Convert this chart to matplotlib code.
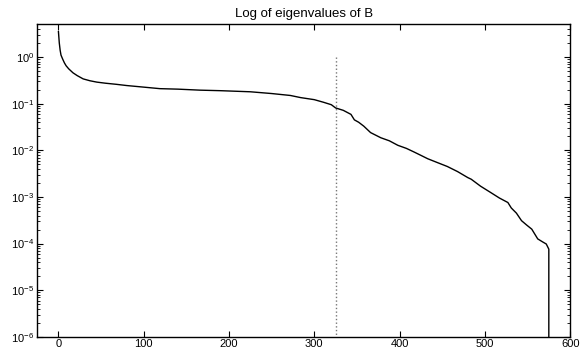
import matplotlib
matplotlib.use("Agg")
import matplotlib.pyplot as plt
from matplotlib.ticker import LogLocator, NullFormatter

plt.rcParams["font.family"] = ["Liberation Sans", "DejaVu Sans"]
plt.rcParams["mathtext.default"] = "regular"

# eigenvalue index / value
idx = [0, 1, 2, 3, 5, 7, 9, 12, 17, 22, 29, 37, 45, 55, 68, 80, 96, 119,
       140, 166, 190, 225, 250, 272, 284, 300, 311, 320, 325, 334, 343, 347,
       352, 358, 366, 378, 388, 398, 408, 417, 425, 433, 445, 456, 468, 480,
       484, 495, 507, 517, 527, 531, 537, 543, 549, 555, 562, 568, 572, 575,
       575]
eig = [3.5, 2.0, 1.4, 1.1, 0.9, 0.75, 0.65, 0.56, 0.46, 0.40, 0.34, 0.31,
       0.29, 0.275, 0.26, 0.245, 0.23, 0.21, 0.205, 0.195, 0.19, 0.18, 0.165,
       0.15, 0.135, 0.122, 0.107, 0.095, 0.081, 0.072, 0.059, 0.045, 0.040,
       0.033, 0.024, 0.0186, 0.016, 0.0128, 0.011, 0.0092, 0.0078, 0.0066,
       0.0054, 0.0045, 0.0035, 0.0026, 0.0024, 0.0017, 0.00124, 0.00095,
       0.00076, 0.00058, 0.00045, 0.00031, 0.00025, 0.000204, 0.000126,
       0.000108, 9.8e-5, 7.6e-5, 1e-9]

# cut-off marker (dotted vertical)
cut_x = [325, 325]
cut_y = [1.0, 1e-7]

xticks = [0, 100, 200, 300, 400, 500, 600]
yticks = [1e-6, 1e-5, 1e-4, 1e-3, 1e-2, 1e-1, 1e0]

fig = plt.figure(figsize=(5.8, 3.52), dpi=100)
ax = fig.add_axes([0.064, 0.043, 0.919, 0.889])

ax.semilogy(idx, eig, color="black", linewidth=1.0)
ax.plot(cut_x, cut_y, color="#777777", linestyle=":", linewidth=1.0)

ax.set_xlim(-25, 600)
ax.set_ylim(1e-6, 10 ** 0.71)
ax.set_xticks(xticks)
ax.set_yticks(yticks)
ax.yaxis.set_minor_locator(LogLocator(base=10, subs=range(2, 10), numticks=20))
ax.yaxis.set_minor_formatter(NullFormatter())

ax.tick_params(which="both", direction="in", top=True, right=True,
               labelsize=8, pad=2)
ax.tick_params(axis="x", pad=1.2)
ax.tick_params(which="major", length=4, width=0.8)
ax.tick_params(which="minor", length=2, width=0.6)
for s in ax.spines.values():
    s.set_linewidth(1.0)

ax.set_title("Log of eigenvalues of B", fontsize=9.5, pad=5)

fig.savefig("out.png", dpi=100)
